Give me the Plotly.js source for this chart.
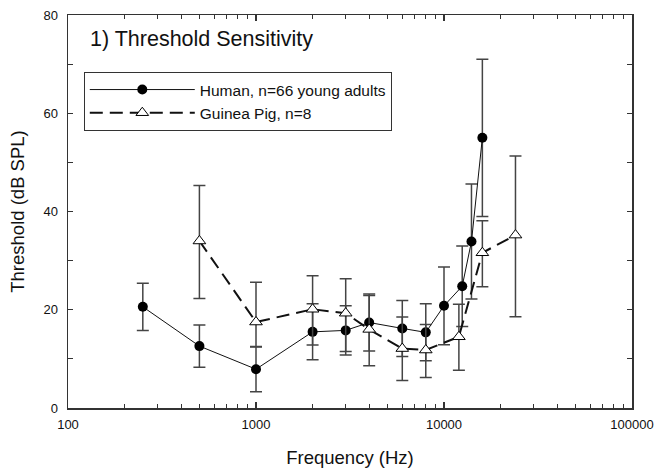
<!DOCTYPE html>
<html>
<head>
<meta charset="utf-8">
<script src="https://cdn.plot.ly/plotly-3.0.1.min.js"></script>
<style>html,body{margin:0;padding:0;background:#fff;}#chart{width:659px;height:470px;}</style>
</head>
<body>
<div id="chart"></div>
<script>
// Human audiometric thresholds
var humanFreq = [250, 500, 1000, 2000, 3000, 4000, 6000, 8000, 10000, 12500, 14000, 16000];
var humanThr  = [20.6, 12.6, 7.9, 15.5, 15.8, 17.4, 16.2, 15.4, 20.8, 24.8, 33.9, 55.0];
var humanSD   = [4.8, 4.3, 4.6, 5.7, 5.0, 5.8, 5.7, 5.8, 7.9, 8.2, 11.7, 16.0];

// Guinea pig thresholds
var gpFreq  = [500, 1000, 2000, 3000, 4000, 6000, 8000, 12000, 16000, 24000];
var gpThr   = [34.0, 17.5, 20.1, 19.3, 16.0, 12.1, 11.8, 14.5, 31.6, 35.2];
var gpPlus  = [11.3, 8.1, 6.8, 7.0, 6.9, 6.4, 5.2, 6.6, 6.5, 16.1];
var gpMinus = [11.7, 5.1, 7.3, 7.8, 7.4, 6.5, 5.6, 6.8, 6.9, 16.6];

var font = 'Liberation Sans, Arial, sans-serif';
var ink = '#333333';

var traces = [
  {
    x: humanFreq, y: humanThr, name: 'Human, n=66 young adults',
    type: 'scatter', mode: 'lines+markers',
    line: {color: '#111', width: 1},
    marker: {symbol: 'circle', size: 10, color: '#000'},
    error_y: {type: 'data', array: humanSD, visible: true, color: '#444', thickness: 1.5, width: 6}
  },
  {
    x: gpFreq, y: gpThr, name: 'Guinea Pig, n=8',
    type: 'scatter', mode: 'lines+markers',
    line: {color: '#111', width: 2, dash: '13px,7px'},
    marker: {symbol: 'triangle-up', size: 11, color: '#fff', line: {color: '#000', width: 1}},
    error_y: {type: 'data', symmetric: false, array: gpPlus, arrayminus: gpMinus, visible: true, color: '#444', thickness: 1.5, width: 6}
  }
];

var layout = {
  width: 659, height: 470,
  margin: {l: 68, r: 27, t: 15, b: 62},
  separators: '.',
  paper_bgcolor: '#fff', plot_bgcolor: '#fff',
  font: {family: font, color: '#111', size: 13},
  showlegend: true,
  legend: {
    x: 0.028, y: 0.855, xanchor: 'left', yanchor: 'top',
    bgcolor: '#fff', bordercolor: ink, borderwidth: 1,
    font: {family: font, size: 15.5, color: '#111'},
    itemwidth: 105, tracegroupgap: 0
  },
  xaxis: {
    type: 'log', range: [2, 5],
    tickmode: 'linear', tick0: 0, dtick: 1, exponentformat: 'none',
    ticks: 'inside', ticklen: 6, tickwidth: 1.2, tickcolor: ink, ticklabelstandoff: 4,
    showline: true, linecolor: ink, linewidth: 1.5, mirror: 'ticks',
    showgrid: false, zeroline: false,
    tickfont: {family: font, size: 13, color: '#111'},
    minor: {ticks: 'inside', ticklen: 4, tickwidth: 1.2, tickcolor: ink, dtick: 'D1', showgrid: false},
    title: {text: 'Frequency (Hz)', font: {family: font, size: 18.5, color: '#111'}, standoff: 20}
  },
  yaxis: {
    range: [0, 80], tickmode: 'linear', tick0: 0, dtick: 20,
    ticks: 'inside', ticklen: 5, tickwidth: 1.2, tickcolor: ink, ticklabelstandoff: 6,
    showline: true, linecolor: ink, linewidth: 1.5, mirror: 'ticks',
    showgrid: false, zeroline: false,
    tickfont: {family: font, size: 13, color: '#111'},
    minor: {ticks: 'inside', ticklen: 5, tickwidth: 1.2, tickcolor: ink, dtick: 10, showgrid: false},
    title: {text: 'Threshold (dB SPL)', font: {family: font, size: 18.5, color: '#111'}, standoff: 14}
  },
  annotations: [{
    xref: 'paper', yref: 'paper', x: 0.036, y: 0.94, xanchor: 'left', yanchor: 'middle',
    text: '1) Threshold Sensitivity', showarrow: false,
    font: {family: font, size: 21.5, color: '#111'}
  }]
};

Plotly.newPlot('chart', traces, layout, {displayModeBar: false, staticPlot: true});
</script>
</body>
</html>
